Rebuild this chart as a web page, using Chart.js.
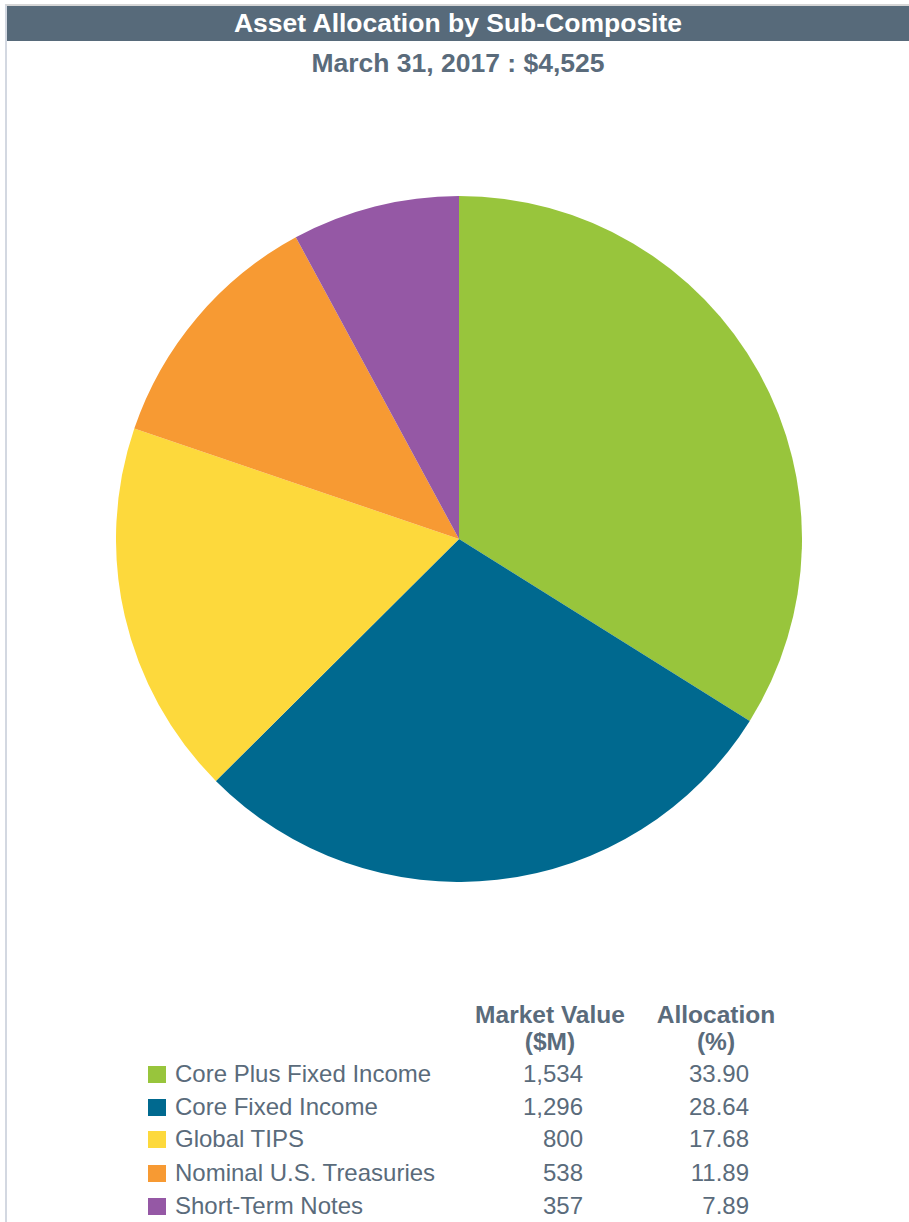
<!DOCTYPE html>
<html>
<head>
<meta charset="utf-8">
<script src="https://cdn.jsdelivr.net/npm/chart.js@4.4.0/dist/chart.umd.min.js"></script>
<style>
  body { margin: 0; background: #fff; font-family: "Liberation Sans", Arial, sans-serif; }
  #frame { position: absolute; left: 5px; top: 4px; width: 904px; height: 1218px; border-left: 2px solid #d3d8e1; border-top: 2px solid #d6d6d6; box-sizing: border-box; }
  #titlebar { position: absolute; left: 0; top: 0; width: 902px; height: 35px; background: #576a7a; color: #fff; font-weight: bold; font-size: 26.5px; text-align: center; line-height: 35px; }
  #subtitle { position: absolute; left: 0; top: 42px; width: 902px; line-height: 30px; text-align: center; color: #5a6b7b; font-weight: bold; font-size: 26.5px; }
  #pieBox { position: absolute; left: 116px; top: 196px; width: 686px; height: 686px; }
  .t { position: absolute; color: #5a6b7b; font-size: 24px; line-height: 28px; white-space: nowrap; }
  .h { font-weight: bold; text-align: center; font-size: 24.5px; }
  .sw { position: absolute; width: 18px; height: 17px; }
</style>
</head>
<body>
<div id="frame">
  <div id="titlebar">Asset Allocation by Sub-Composite</div>
  <div id="subtitle">March 31, 2017 : $4,525</div>
</div>
<div id="pieBox"><canvas id="AllocationPie"></canvas></div>
<div id="table"></div>
<script>
const categories = ["Core Plus Fixed Income", "Core Fixed Income", "Global TIPS", "Nominal U.S. Treasuries", "Short-Term Notes"];
const marketValues = ["1,534", "1,296", "800", "538", "357"];
const allocations = [33.90, 28.64, 17.68, 11.89, 7.89];
const colors = ["#98c53c", "#00698f", "#fdd93c", "#f79a33", "#9558a5"];

function BuildTable() {
    const table = document.getElementById("table");
    let html = "";
    html += '<div class="t h" style="left:460px;top:1001px;width:180px;">Market Value</div>';
    html += '<div class="t h" style="left:460px;top:1028px;width:180px;">($M)</div>';
    html += '<div class="t h" style="left:626px;top:1001px;width:180px;">Allocation</div>';
    html += '<div class="t h" style="left:626px;top:1028px;width:180px;">(%)</div>';
    const rowCenters = [1074, 1107, 1139, 1173, 1206];
    for (let i = 0; i < categories.length; i++) {
        const y = rowCenters[i] - 14;
        html += '<div class="sw" style="left:148px;top:' + (rowCenters[i] - 8) + 'px;background:' + colors[i] + ';"></div>';
        html += '<div class="t" style="left:175px;top:' + y + 'px;">' + categories[i] + '</div>';
        html += '<div class="t" style="left:463px;top:' + y + 'px;width:120px;text-align:right;">' + marketValues[i] + '</div>';
        html += '<div class="t" style="left:629px;top:' + y + 'px;width:120px;text-align:right;">' + allocations[i].toFixed(2) + '</div>';
    }
    table.innerHTML = html;
}

function CreateChart() {
    const ctx = document.getElementById("AllocationPie");
    new Chart(ctx, {
        type: "pie",
        data: {
            labels: categories,
            datasets: [{
                data: allocations,
                backgroundColor: colors,
                borderWidth: 0
            }]
        },
        options: {
            responsive: true,
            maintainAspectRatio: false,
            animation: false,
            layout: { padding: 0 },
            plugins: {
                legend: { display: false },
                tooltip: { enabled: false }
            }
        }
    });
}

BuildTable();
CreateChart();
</script>
</body>
</html>
